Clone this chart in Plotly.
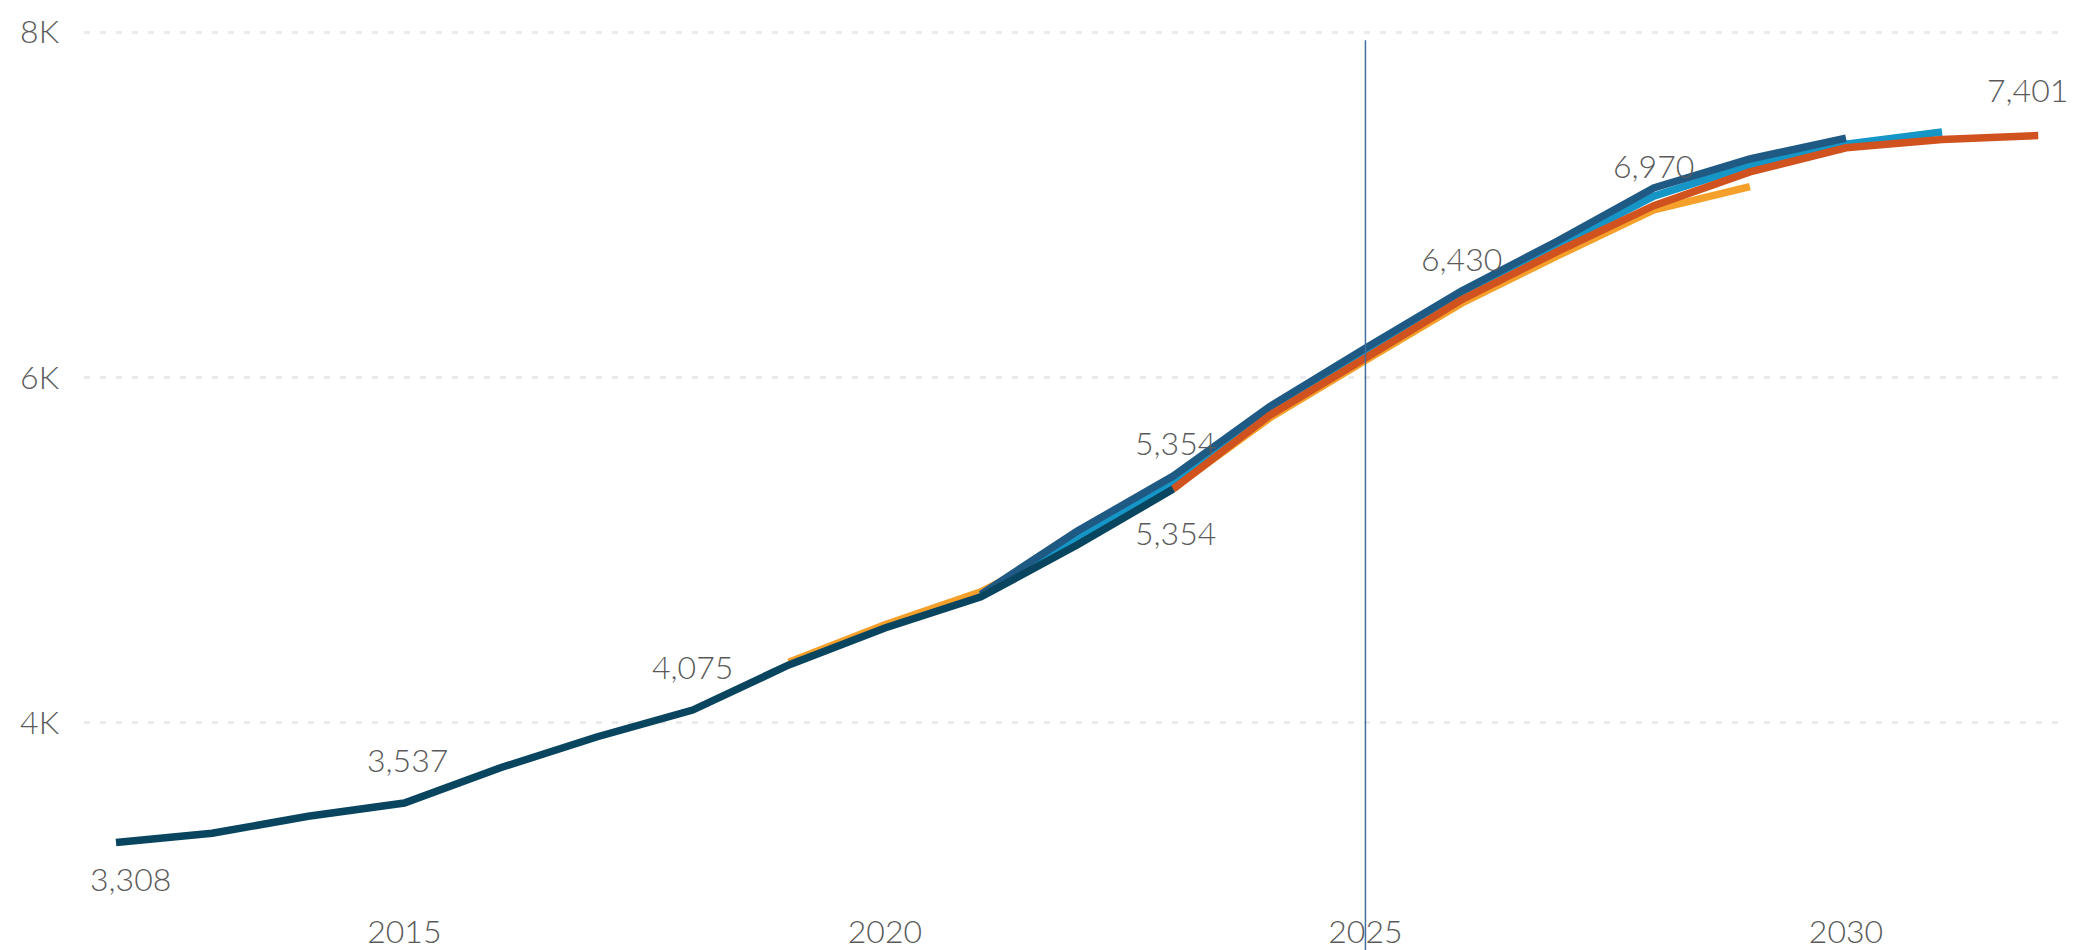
import plotly.graph_objects as go

# Actuals and forecast vintages
years_actual = [2012, 2013, 2014, 2015, 2016, 2017, 2018, 2019, 2020, 2021, 2022, 2023]
actual = [3308, 3362, 3460, 3537, 3741, 3919, 4075, 4336, 4550, 4730, 5030, 5354]

years_fc_a = [2019, 2020, 2021, 2022, 2023, 2024, 2025, 2026, 2027, 2028, 2029]
fc_a = [4352, 4568, 4760, 5050, 5360, 5765, 6100, 6430, 6705, 6970, 7105]

years_fc_b = [2021, 2022, 2023, 2024, 2025, 2026, 2027, 2028, 2029, 2030]
fc_b = [4745, 5110, 5430, 5830, 6170, 6500, 6790, 7097, 7265, 7386]

years_fc_c = [2021, 2022, 2023, 2024, 2025, 2026, 2027, 2028, 2029, 2030, 2031]
fc_c = [4738, 5070, 5395, 5805, 6140, 6470, 6760, 7050, 7228, 7350, 7421]

years_fc_d = [2023, 2024, 2025, 2026, 2027, 2028, 2029, 2030, 2031, 2032]
fc_d = [5354, 5780, 6113, 6450, 6730, 6995, 7190, 7330, 7378, 7401]

# data labels: (year, value, text, xshift, yshift)
labels = [
    (2012, 3308, "3,308", 14, -36),
    (2015, 3537, "3,537", 3, 43),
    (2018, 4075, "4,075", 0, 44),
    (2023, 5354, "5,354", 2, 47),
    (2023, 5354, "5,354", 2, -43),
    (2026, 6430, "6,430", 0, 45),
    (2028, 6970, "6,970", 0, 44),
    (2032, 7401, "7,401", -11, 46),
]

x_ticks = [2015, 2020, 2025, 2030]
y_ticks = [4000, 6000, 8000]
y_tick_text = ["4K", "6K", "8K"]
marker_year = 2025

FONT = dict(family="Lato", size=32, color="#5a5a5a", weight=300)

fig = go.Figure()

series = [
    (years_fc_a, fc_a, "#f5a02a"),
    (years_fc_c, fc_c, "#1596c6"),
    (years_fc_b, fc_b, "#1f5a85"),
    (years_fc_d, fc_d, "#d0521e"),
    (years_actual, actual, "#0a4560"),
]
for xs, ys, col in series:
    fig.add_trace(go.Scatter(
        x=xs, y=ys, mode="lines",
        line=dict(color=col, width=7.5),
        hoverinfo="x+y",
    ))

for yr, val, txt, dx, dy in labels:
    fig.add_annotation(x=yr, y=val, text=txt, showarrow=False,
                       xshift=dx, yshift=dy, font=FONT)

fig.add_shape(type="line", xref="x", yref="paper",
              x0=marker_year, x1=marker_year, y0=-0.06, y1=0.985,
              line=dict(color="#3f6f9f", width=1.5))

# page body has an 8px margin, so the figure is sized to fit inside it
fig.update_layout(
    width=2067, height=942,
    margin=dict(l=76, r=7, t=19, b=45),
    paper_bgcolor="white", plot_bgcolor="white",
    showlegend=False,
    font=FONT,
)
fig.update_xaxes(
    range=[2011.667, 2032.31],
    tickvals=x_ticks, ticktext=[str(v) for v in x_ticks],
    showgrid=False, zeroline=False, showline=False, ticks="",
    tickfont=FONT, ticklabelstandoff=5, automargin=False,
)
fig.update_yaxes(
    range=[2946.4, 8029],
    tickvals=y_ticks, ticktext=y_tick_text,
    showgrid=True, gridcolor="#ebebeb", gridwidth=3, griddash="6px,10px",
    zeroline=False, showline=False, ticks="",
    tickfont=FONT, ticklabelstandoff=24, automargin=False,
)

fig.write_html("out.html")
